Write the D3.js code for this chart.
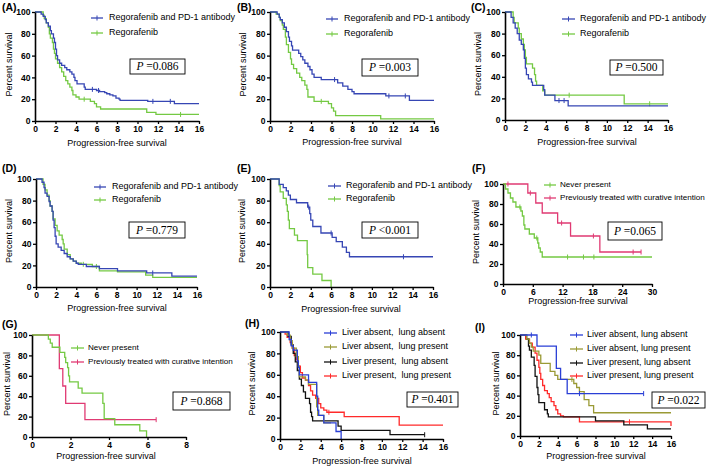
<!DOCTYPE html>
<html><head><meta charset="utf-8">
<script src="https://cdn.jsdelivr.net/npm/d3@7/dist/d3.min.js"></script>
<style>body{margin:0;background:#fff}svg{display:block}</style>
</head><body><svg id="c" width="709" height="468"></svg>
<script>
// ---------- data ----------
const yTicks = [0,20,40,60,80,100];
const xTicks16 = [0,2,4,6,8,10,12,14,16];
const xTicks30 = [0,6,12,18,24,30];
const xTicks8 = [0,2,4,6,8];

const labelsRegPd1 = ["Regorafenib and PD-1 antibody","Regorafenib"];
const labelsFG = ["Never present","Previously treated with curative intention"];
const labelsH = ["Liver absent,  lung absent","Liver absent,  lung present","Liver present,  lung absent","Liver present,  lung present"];
const labelsI = ["Liver absent, lung absent","Liver absent, lung present","Liver present, lung absent","Liver present, lung present"];
const pValues = ["=0.086","=0.003","=0.500","=0.779","<0.001","=0.065","=0.868","=0.401","=0.022"];

const A_combo = [[0,100],[0.6,98],[0.8,96],[1.0,93],[1.1,90],[1.3,87],[1.5,83],[1.6,80],[1.8,76],[1.9,72],[2.0,66],[2.1,60],[2.2,56],[2.4,53],[2.6,51],[2.9,49],[3.1,47],[3.4,45],[3.6,43],[3.8,40],[3.9,37],[4.1,34],[4.8,31],[4.9,29],[6.0,28],[6.3,27],[6.8,26],[7.0,25],[7.3,24],[7.6,23],[7.9,21],[8.2,20],[8.3,19],[11.0,18],[13.6,16],[16,16]];
const A_combo_cens = [5.6,6.2,11.5,13.2];
const A_rego = [[0,100],[0.8,97],[0.9,94],[1.1,90],[1.3,86],[1.4,80],[1.5,76],[1.7,72],[1.8,66],[1.9,62],[2.0,57],[2.2,53],[2.4,49],[2.6,45],[2.8,41],[3.0,37],[3.2,34],[3.4,31],[3.6,28],[3.7,24],[4.0,22],[4.3,20],[5.4,18],[5.8,16],[6.0,13],[6.4,11],[10.9,8],[11.8,6],[16,6]];
const A_rego_cens = [4.8,14.2];

const B_combo = [[0,100],[0.7,98],[0.9,95],[1.0,93],[1.2,90],[1.4,86],[1.6,82],[1.8,77],[1.9,73],[2.1,69],[2.2,65],[2.8,62],[3.0,59],[3.2,56],[3.4,53],[3.7,50],[3.9,47],[4.1,43],[4.3,40],[5.0,38],[6.6,35],[7.1,32],[7.6,29],[8.0,27],[8.2,25],[11.3,23],[13.6,19],[16,19]];
const B_combo_cens = [6.3,11.6,13.2];
const B_rego = [[0,100],[0.6,98],[0.9,95],[1.0,92],[1.2,88],[1.3,84],[1.5,77],[1.6,70],[1.8,63],[2.0,57],[2.1,52],[2.3,48],[2.6,44],[2.9,40],[3.1,37],[3.4,33],[3.6,29],[3.7,22],[4.3,18],[5.7,16],[6.0,12],[6.2,9],[6.4,5],[10.8,2],[16,2]];
const B_rego_cens = [5.0];

const C_combo = [[0,100],[0.6,95],[0.8,90],[1.0,85],[1.2,80],[1.4,74],[1.6,70],[1.8,65],[1.9,57],[2.0,48],[2.1,42],[2.3,38],[2.6,35],[2.7,32],[3.8,28],[3.9,23],[4.9,18],[6.2,13],[16,13]];
const C_combo_cens = [5.3,5.8];
const C_rego = [[0,100],[0.8,95],[0.9,90],[1.3,85],[1.4,80],[1.6,75],[1.8,70],[1.9,65],[2.0,58],[2.1,52],[2.7,48],[2.9,42],[3.0,36],[3.1,32],[3.7,27],[3.9,23],[11.7,15],[16,15]];
const C_rego_cens = [6.3,14.2];

const D_combo = [[0,100],[0.6,97],[0.8,92],[0.9,87],[1.1,84],[1.3,79],[1.4,75],[1.6,70],[1.7,62],[1.8,55],[1.9,47],[2.0,40],[2.2,37],[2.5,34],[2.8,31],[3.1,28],[3.4,26],[3.7,24],[4.0,22],[4.2,21],[5.0,19],[6.3,17],[8.1,15],[11.0,13],[13.5,10],[16,10]];
const D_combo_cens = [11.6];
const D_rego = [[0,100],[0.7,95],[0.9,90],[1.1,85],[1.3,80],[1.4,75],[1.6,70],[1.7,63],[1.9,57],[2.1,52],[2.3,48],[2.6,44],[2.7,40],[2.8,35],[3.1,30],[3.4,26],[3.7,24],[4.0,22],[4.5,21],[5.6,19],[6.3,15],[8.1,14],[10.9,11],[11.6,9],[16,9]];
const D_rego_cens = [4.7,6.0];

const E_combo = [[0,100],[0.9,95],[1.3,92],[1.6,89],[1.8,85],[2.0,81],[2.6,78],[3.7,74],[3.9,68],[4.0,62],[4.2,56],[5.0,50],[6.1,46],[6.5,42],[7.1,37],[7.5,32],[7.8,28],[16,28]];
const E_combo_cens = [3.8,6.0,13.1];
const E_rego = [[0,100],[0.9,94],[1.0,88],[1.3,82],[1.6,76],[1.7,70],[1.8,62],[1.9,54],[2.4,48],[2.7,43],[3.65,30],[3.7,18],[4.2,12],[5.1,6],[6.0,0],[6.0,0]];
const E_rego_cens = [];

const F_never = [[0,100],[0.5,95],[1.0,91],[1.5,86],[2.0,82],[2.6,77],[3.6,73],[3.9,68],[4.2,59],[4.4,55],[5.3,50],[6.3,46],[7.0,41],[7.2,36],[7.5,32],[7.9,27],[30,27]];
const F_never_cens = [3.4,6.8,13,16.2,18.3];
const F_prev = [[0,100],[5.0,91],[6.6,81],[7.9,71],[11.0,61],[13.6,48],[19.5,32],[27.8,32]];
const F_prev_cens = [1.0,5.5,11.8,18.2,26.2,27.8];

const G_never = [[0,100],[0.85,96],[0.95,92],[1.05,88],[1.45,83],[1.7,78],[1.75,73],[1.85,68],[1.9,60],[1.95,54],[2.4,48],[2.6,43],[3.68,33],[3.75,18],[4.3,12],[5.6,6],[5.95,0],[5.95,0]];
const G_never_cens = [];
const G_prev = [[0,100],[1.42,67],[1.6,50],[1.75,33],[2.75,17],[6.45,17]];
const G_prev_cens = [6.45];

const H_laLua = [[0,100],[0.9,93],[1.1,87],[1.3,83],[1.7,73],[1.8,67],[1.9,60],[2.8,53],[3.6,40],[3.7,27],[3.8,22],[4.3,15],[5.5,7],[6.0,0],[6.0,0]];
const H_laLup = [[0,100],[0.7,97],[1.0,92],[1.2,85],[1.6,77],[1.8,68],[1.9,58],[2.5,55],[2.8,51],[3.6,30],[3.7,22],[4.3,15],[5.0,15]];
const H_lpLua = [[0,100],[0.8,96],[1.1,88],[1.3,80],[1.5,72],[1.7,64],[1.9,56],[2.1,50],[2.3,44],[2.5,38],[2.9,33],[3.0,25],[3.1,21],[3.2,17],[5.7,12],[6.0,8],[10.8,4],[14.2,4]];
const H_lpLup = [[0,100],[0.5,98],[0.7,95],[1.0,90],[1.2,85],[1.4,78],[1.6,74],[1.8,68],[2.0,62],[2.2,57],[2.5,55],[2.8,50],[3.0,45],[3.2,41],[3.5,38],[3.8,33],[4.0,29],[4.3,27],[4.6,25],[6.3,21],[11.7,13],[16,13]];
const H_cens = [[],[],[14.2],[4.8]];

const I_laLua = [[0,100],[1.8,89],[3.85,67],[4.3,56],[5.0,42],[13.1,42]];
const I_laLup = [[0,100],[0.7,96],[1.0,92],[1.2,88],[1.4,84],[2.0,80],[2.2,72],[3.2,64],[3.7,60],[4.0,56],[5.7,52],[6.0,48],[6.3,44],[6.8,36],[7.3,30],[7.8,23],[16,23]];
const I_lpLua = [[0,100],[0.7,96],[0.9,89],[1.0,85],[1.2,78],[1.5,70],[1.6,59],[1.8,48],[1.9,41],[2.0,33],[2.6,26],[2.9,22],[3.0,19],[8.0,15],[11.0,11],[13.5,7],[16,7]];
const I_lpLup = [[0,100],[0.6,96],[1.0,92],[1.3,88],[1.6,82],[1.8,75],[2.0,68],[2.1,62],[2.2,56],[2.4,50],[2.6,45],[2.9,42],[3.1,38],[3.3,34],[3.6,30],[3.8,26],[4.0,22],[4.3,20],[4.6,19],[6.3,14],[16,14],[16,10]];
const I_cens = [[1.2,6.3,13.1],[5.5],[],[11.6]];

// ---------- style ----------
const BLUE = "#3646b4", GREEN = "#74c943", PINK = "#e03a73";
const HBLUE = "#2a3fd6", OLIVE = "#9a9a35", BLACK = "#111", RED = "#ff2a2a";
const SANS = "Arial, 'Liberation Sans', Helvetica, sans-serif";
const SERIF = "'Times New Roman', 'Liberation Serif', serif";

const svg = d3.select("#c");

function survAt(data, t) {
  let s = data[0][1];
  for (const d of data) { if (d[0] <= t) s = d[1]; else break; }
  return s;
}

function panel(cfg) {
  const g = svg.append("g");
  const x = d3.scaleLinear().domain([0, cfg.xMax]).range([cfg.x0, cfg.x1]);
  const y = d3.scaleLinear().domain([0, 100]).range([cfg.y1, cfg.y0]);

  const line = d3.line().x(d => x(d[0])).y(d => y(d[1])).curve(d3.curveStepAfter);
  cfg.series.slice().reverse().forEach(s => {
    g.append("path").attr("d", line(s.data)).attr("fill", "none")
      .attr("stroke", s.color).attr("stroke-width", 1.3);
    g.selectAll(null).data(s.cens).enter().append("line")
      .attr("x1", d => x(d)).attr("x2", d => x(d))
      .attr("y1", d => y(survAt(s.data, d)) - 2.5)
      .attr("y2", d => y(survAt(s.data, d)) + 2.5)
      .attr("stroke", s.color).attr("stroke-width", 1);
  });

  const ax = g.append("g").attr("transform", `translate(0,${cfg.y1})`)
    .call(d3.axisBottom(x).tickValues(cfg.xTicks).tickSize(3).tickPadding(1.5).tickSizeOuter(0));
  const ay = g.append("g").attr("transform", `translate(${cfg.x0},0)`)
    .call(d3.axisLeft(y).tickValues(yTicks).tickSize(3).tickPadding(1.5).tickSizeOuter(0));
  [ax, ay].forEach(a => {
    a.select(".domain").attr("stroke", "#000").attr("stroke-width", 1.6);
    a.selectAll(".tick line").attr("stroke", "#000").attr("stroke-width", 1.3);
    a.selectAll(".tick text").attr("font-size", 8.5).attr("font-weight", "bold")
      .attr("font-family", SANS).attr("fill", "#000");
  });

  // axis titles
  g.append("text").attr("x", cfg.xt[0]).attr("y", cfg.xt[1]).attr("text-anchor", "middle")
    .attr("dominant-baseline", "middle").attr("font-family", SANS).attr("font-size", 9)
    .text("Progression-free survival");
  g.append("text").attr("transform", `translate(${cfg.yt},${(cfg.y0 + cfg.y1) / 2 - 2}) rotate(-90)`)
    .attr("text-anchor", "middle").attr("dominant-baseline", "middle")
    .attr("font-family", SANS).attr("font-size", 9).text("Percent survival");

  // panel letter
  g.append("text").attr("x", cfg.lab[0]).attr("y", cfg.lab[1]).attr("font-family", SANS)
    .attr("font-weight", "bold").attr("font-size", 10.5).text(`(${cfg.key})`);

  // legend
  cfg.series.forEach((s, i) => {
    const ly = cfg.leg.ys[i];
    g.append("line").attr("x1", cfg.leg.lx).attr("x2", cfg.leg.lx2).attr("y1", ly).attr("y2", ly)
      .attr("stroke", s.color).attr("stroke-width", 1.3);
    const mx = (cfg.leg.lx + cfg.leg.lx2) / 2;
    g.append("line").attr("x1", mx).attr("x2", mx).attr("y1", ly - 2.5).attr("y2", ly + 2.5)
      .attr("stroke", s.color).attr("stroke-width", 1);
    g.append("text").attr("x", cfg.leg.tx).attr("y", ly).attr("dominant-baseline", "middle")
      .attr("font-family", SANS).attr("font-size", cfg.leg.fs || 9).style("white-space", "pre").text(s.label);
  });

  // p box
  const [bx, by, bw, bh] = cfg.pbox;
  g.append("rect").attr("x", bx).attr("y", by).attr("width", bw).attr("height", bh)
    .attr("fill", "#fff").attr("stroke", "#000").attr("stroke-width", 0.9);
  const t = g.append("text").attr("x", bx + bw / 2).attr("y", by + bh / 2 + 0.5)
    .attr("text-anchor", "middle").attr("dominant-baseline", "middle")
    .attr("font-family", SERIF).attr("font-size", 11.5);
  t.append("tspan").attr("font-style", "italic").text("P ");
  t.append("tspan").text(cfg.p);
}

const two = (a, b, ca, cb, labels, c1, c2) => [
  { data: a, cens: ca, color: c1, label: labels[0] },
  { data: b, cens: cb, color: c2, label: labels[1] }];

const panels = [
  { key: "A", x0: 35, x1: 199, y0: 12, y1: 121, xMax: 16, xTicks: xTicks16, xt: [117, 144], yt: 10, lab: [2, 11],
    leg: { lx: 91, lx2: 103, tx: 109, ys: [18, 33] }, pbox: [130, 59, 55, 15], p: pValues[0],
    series: two(A_combo, A_rego, A_combo_cens, A_rego_cens, labelsRegPd1, BLUE, GREEN) },
  { key: "B", x0: 270, x1: 434, y0: 12, y1: 121, xMax: 16, xTicks: xTicks16, xt: [352, 143], yt: 244, lab: [237, 11],
    leg: { lx: 326, lx2: 338, tx: 344, ys: [19, 34] }, pbox: [362, 59, 56, 17], p: pValues[1],
    series: two(B_combo, B_rego, B_combo_cens, B_rego_cens, labelsRegPd1, BLUE, GREEN) },
  { key: "C", x0: 505, x1: 668, y0: 12, y1: 120, xMax: 16, xTicks: xTicks16, xt: [587, 143], yt: 479, lab: [471, 11],
    leg: { lx: 562, lx2: 575, tx: 580, ys: [19, 34] }, pbox: [610, 60, 53, 15], p: pValues[2],
    series: two(C_combo, C_rego, C_combo_cens, C_rego_cens, labelsRegPd1, BLUE, GREEN) },
  { key: "D", x0: 36, x1: 197, y0: 179, y1: 287, xMax: 16, xTicks: xTicks16, xt: [117, 309], yt: 10, lab: [2, 172],
    leg: { lx: 94, lx2: 106, tx: 112, ys: [187, 200] }, pbox: [129, 222, 56, 16], p: pValues[3],
    series: two(D_combo, D_rego, D_combo_cens, D_rego_cens, labelsRegPd1, BLUE, GREEN) },
  { key: "E", x0: 270, x1: 433, y0: 179, y1: 287, xMax: 16, xTicks: xTicks16, xt: [351, 310], yt: 243, lab: [237, 172],
    leg: { lx: 328, lx2: 341, tx: 346, ys: [186, 199] }, pbox: [362, 222, 56, 16], p: pValues[4],
    series: two(E_combo, E_rego, E_combo_cens, E_rego_cens, labelsRegPd1, BLUE, GREEN) },
  { key: "F", x0: 503, x1: 652, y0: 184, y1: 284, xMax: 30, xTicks: xTicks30, xt: [578, 302], yt: 477, lab: [472, 172],
    leg: { lx: 544, lx2: 556, tx: 560, ys: [185, 198], fs: 8.1 }, pbox: [608, 222, 54, 18], p: pValues[5],
    series: two(F_never, F_prev, F_never_cens, F_prev_cens, labelsFG, GREEN, PINK) },
  { key: "G", x0: 32, x1: 186, y0: 335, y1: 437, xMax: 8, xTicks: xTicks8, xt: [106, 457], yt: 8, lab: [2, 328],
    leg: { lx: 71, lx2: 84, tx: 88, ys: [348, 362], fs: 8.1 }, pbox: [173, 392, 57, 18], p: pValues[6],
    series: two(G_never, G_prev, G_never_cens, G_prev_cens, labelsFG, GREEN, PINK) },
  { key: "H", x0: 280, x1: 443, y0: 332, y1: 439, xMax: 16, xTicks: xTicks16, xt: [362, 462], yt: 253, lab: [245, 327],
    leg: { lx: 324, lx2: 337, tx: 342, ys: [333, 347, 362, 376] }, pbox: [407, 392, 51, 15], p: pValues[7],
    series: [H_laLua, H_laLup, H_lpLua, H_lpLup].map((d, i) => ({ data: d, cens: H_cens[i], color: [HBLUE, OLIVE, BLACK, RED][i], label: labelsH[i] })) },
  { key: "I", x0: 520, x1: 671, y0: 335, y1: 436, xMax: 16, xTicks: xTicks16, xt: [596, 457], yt: 497, lab: [475, 331],
    leg: { lx: 570, lx2: 583, tx: 587, ys: [335, 349, 363, 376] }, pbox: [652, 392, 53, 16], p: pValues[8],
    series: [I_laLua, I_laLup, I_lpLua, I_lpLup].map((d, i) => ({ data: d, cens: I_cens[i], color: [HBLUE, OLIVE, BLACK, RED][i], label: labelsI[i] })) }
];

panels.forEach(panel);
</script></body></html>
